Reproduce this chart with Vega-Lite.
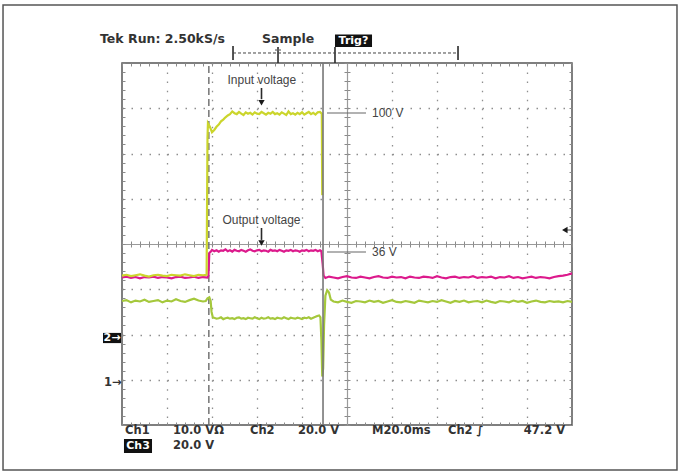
{
"$schema":"https://vega.github.io/schema/vega-lite/v6.json",
"width":450,"height":362,"autosize":"none",
"padding":{"left":122,"top":63,"right":109,"bottom":47},
"background":"white",
"config":{"view":{"stroke":"#555","strokeWidth":1.5},
"axis":{"labels":false,"title":null,"domain":false,"grid":false,"ticks":false,"tickColor":"#8a8a8a","tickWidth":1,"tickSize":3,"domainColor":"#9a9a9a","domainWidth":1.2}},
"resolve":{"axis":{"x":"independent","y":"independent"}},
"datasets":{
"ch1":[{"t":0,"v":3.3},{"t":0.1,"v":3.32},{"t":0.2,"v":3.29},{"t":0.3,"v":3.31},{"t":0.4,"v":3.33},{"t":0.5,"v":3.3},{"t":0.6,"v":3.28},{"t":0.7,"v":3.31},{"t":0.8,"v":3.32},{"t":0.9,"v":3.3},{"t":1.0,"v":3.29},{"t":1.1,"v":3.32},{"t":1.2,"v":3.31},{"t":1.3,"v":3.3},{"t":1.4,"v":3.33},{"t":1.5,"v":3.31},{"t":1.6,"v":3.29},{"t":1.7,"v":3.32},{"t":1.8,"v":3.31},{"t":1.88,"v":3.32},{"t":1.9,"v":6.35},{"t":1.91,"v":6.67},{"t":1.95,"v":6.6},{"t":2.0,"v":6.47},{"t":2.05,"v":6.52},{"t":2.1,"v":6.59},{"t":2.15,"v":6.64},{"t":2.2,"v":6.71},{"t":2.25,"v":6.75},{"t":2.3,"v":6.8},{"t":2.35,"v":6.84},{"t":2.4,"v":6.87},{"t":2.45,"v":6.93},{"t":2.5,"v":6.89},{"t":2.55,"v":6.87},{"t":2.6,"v":6.92},{"t":2.65,"v":6.88},{"t":2.7,"v":6.85},{"t":2.75,"v":6.91},{"t":2.8,"v":6.88},{"t":2.85,"v":6.9},{"t":2.9,"v":6.86},{"t":2.95,"v":6.91},{"t":3.0,"v":6.88},{"t":3.05,"v":6.87},{"t":3.1,"v":6.92},{"t":3.15,"v":6.89},{"t":3.2,"v":6.86},{"t":3.25,"v":6.9},{"t":3.3,"v":6.88},{"t":3.35,"v":6.92},{"t":3.4,"v":6.87},{"t":3.45,"v":6.89},{"t":3.5,"v":6.86},{"t":3.55,"v":6.91},{"t":3.6,"v":6.88},{"t":3.65,"v":6.85},{"t":3.7,"v":6.93},{"t":3.75,"v":6.87},{"t":3.8,"v":6.89},{"t":3.85,"v":6.86},{"t":3.9,"v":6.9},{"t":3.95,"v":6.87},{"t":4.0,"v":6.91},{"t":4.05,"v":6.86},{"t":4.1,"v":6.89},{"t":4.15,"v":6.92},{"t":4.2,"v":6.87},{"t":4.25,"v":6.9},{"t":4.3,"v":6.86},{"t":4.35,"v":6.91},{"t":4.4,"v":6.92},{"t":4.44,"v":6.88},{"t":4.45,"v":5.08}],
"ch2":[{"t":0,"v":3.26},{"t":0.1,"v":3.28},{"t":0.2,"v":3.25},{"t":0.3,"v":3.27},{"t":0.4,"v":3.24},{"t":0.5,"v":3.27},{"t":0.6,"v":3.26},{"t":0.7,"v":3.28},{"t":0.8,"v":3.25},{"t":0.9,"v":3.27},{"t":1.0,"v":3.26},{"t":1.1,"v":3.24},{"t":1.2,"v":3.27},{"t":1.3,"v":3.28},{"t":1.4,"v":3.25},{"t":1.5,"v":3.26},{"t":1.6,"v":3.28},{"t":1.7,"v":3.25},{"t":1.8,"v":3.27},{"t":1.9,"v":3.26},{"t":1.92,"v":3.3},{"t":1.94,"v":3.8},{"t":1.98,"v":3.84},{"t":2.0,"v":3.87},{"t":2.05,"v":3.84},{"t":2.1,"v":3.86},{"t":2.15,"v":3.83},{"t":2.2,"v":3.86},{"t":2.25,"v":3.85},{"t":2.3,"v":3.88},{"t":2.35,"v":3.84},{"t":2.4,"v":3.86},{"t":2.45,"v":3.83},{"t":2.5,"v":3.87},{"t":2.55,"v":3.85},{"t":2.6,"v":3.84},{"t":2.65,"v":3.87},{"t":2.7,"v":3.85},{"t":2.75,"v":3.83},{"t":2.8,"v":3.86},{"t":2.85,"v":3.88},{"t":2.9,"v":3.85},{"t":2.95,"v":3.84},{"t":3.0,"v":3.86},{"t":3.05,"v":3.87},{"t":3.1,"v":3.84},{"t":3.15,"v":3.86},{"t":3.2,"v":3.85},{"t":3.25,"v":3.83},{"t":3.3,"v":3.87},{"t":3.35,"v":3.85},{"t":3.4,"v":3.86},{"t":3.45,"v":3.84},{"t":3.5,"v":3.87},{"t":3.55,"v":3.85},{"t":3.6,"v":3.83},{"t":3.65,"v":3.86},{"t":3.7,"v":3.85},{"t":3.75,"v":3.87},{"t":3.8,"v":3.84},{"t":3.85,"v":3.86},{"t":3.9,"v":3.85},{"t":3.95,"v":3.83},{"t":4.0,"v":3.86},{"t":4.05,"v":3.85},{"t":4.1,"v":3.87},{"t":4.15,"v":3.84},{"t":4.2,"v":3.86},{"t":4.25,"v":3.85},{"t":4.3,"v":3.87},{"t":4.35,"v":3.84},{"t":4.4,"v":3.86},{"t":4.43,"v":3.84},{"t":4.46,"v":3.55},{"t":4.48,"v":3.3},{"t":4.52,"v":3.25},{"t":4.6,"v":3.28},{"t":4.7,"v":3.26},{"t":4.8,"v":3.24},{"t":4.9,"v":3.27},{"t":5.0,"v":3.29},{"t":5.1,"v":3.26},{"t":5.2,"v":3.25},{"t":5.3,"v":3.28},{"t":5.4,"v":3.26},{"t":5.5,"v":3.24},{"t":5.6,"v":3.27},{"t":5.7,"v":3.29},{"t":5.8,"v":3.26},{"t":5.9,"v":3.25},{"t":6.0,"v":3.28},{"t":6.1,"v":3.26},{"t":6.2,"v":3.27},{"t":6.3,"v":3.24},{"t":6.4,"v":3.28},{"t":6.5,"v":3.26},{"t":6.6,"v":3.25},{"t":6.7,"v":3.28},{"t":6.8,"v":3.27},{"t":6.9,"v":3.25},{"t":7.0,"v":3.29},{"t":7.1,"v":3.26},{"t":7.2,"v":3.24},{"t":7.3,"v":3.27},{"t":7.4,"v":3.28},{"t":7.5,"v":3.25},{"t":7.6,"v":3.27},{"t":7.7,"v":3.26},{"t":7.8,"v":3.29},{"t":7.9,"v":3.25},{"t":8.0,"v":3.27},{"t":8.1,"v":3.26},{"t":8.2,"v":3.28},{"t":8.3,"v":3.24},{"t":8.4,"v":3.27},{"t":8.5,"v":3.26},{"t":8.6,"v":3.29},{"t":8.7,"v":3.25},{"t":8.8,"v":3.27},{"t":8.9,"v":3.24},{"t":9.0,"v":3.26},{"t":9.1,"v":3.28},{"t":9.2,"v":3.25},{"t":9.3,"v":3.27},{"t":9.4,"v":3.26},{"t":9.5,"v":3.24},{"t":9.6,"v":3.27},{"t":9.7,"v":3.29},{"t":9.8,"v":3.3},{"t":9.9,"v":3.32},{"t":10.0,"v":3.35}],
"ch3":[{"t":0,"v":2.74},{"t":0.1,"v":2.76},{"t":0.2,"v":2.71},{"t":0.3,"v":2.75},{"t":0.4,"v":2.73},{"t":0.5,"v":2.77},{"t":0.6,"v":2.72},{"t":0.7,"v":2.74},{"t":0.8,"v":2.76},{"t":0.9,"v":2.71},{"t":1.0,"v":2.75},{"t":1.1,"v":2.73},{"t":1.2,"v":2.78},{"t":1.3,"v":2.74},{"t":1.4,"v":2.72},{"t":1.5,"v":2.76},{"t":1.6,"v":2.79},{"t":1.7,"v":2.75},{"t":1.8,"v":2.73},{"t":1.86,"v":2.74},{"t":1.9,"v":2.8},{"t":1.94,"v":2.82},{"t":1.97,"v":2.74},{"t":1.99,"v":2.5},{"t":2.02,"v":2.37},{"t":2.05,"v":2.37},{"t":2.1,"v":2.35},{"t":2.15,"v":2.36},{"t":2.2,"v":2.38},{"t":2.25,"v":2.34},{"t":2.3,"v":2.36},{"t":2.35,"v":2.37},{"t":2.4,"v":2.35},{"t":2.45,"v":2.36},{"t":2.5,"v":2.34},{"t":2.55,"v":2.37},{"t":2.6,"v":2.38},{"t":2.65,"v":2.35},{"t":2.7,"v":2.36},{"t":2.75,"v":2.34},{"t":2.8,"v":2.37},{"t":2.85,"v":2.36},{"t":2.9,"v":2.35},{"t":2.95,"v":2.38},{"t":3.0,"v":2.36},{"t":3.05,"v":2.34},{"t":3.1,"v":2.37},{"t":3.15,"v":2.35},{"t":3.2,"v":2.36},{"t":3.25,"v":2.38},{"t":3.3,"v":2.35},{"t":3.35,"v":2.36},{"t":3.4,"v":2.34},{"t":3.45,"v":2.37},{"t":3.5,"v":2.36},{"t":3.55,"v":2.35},{"t":3.6,"v":2.38},{"t":3.65,"v":2.36},{"t":3.7,"v":2.34},{"t":3.75,"v":2.37},{"t":3.8,"v":2.36},{"t":3.85,"v":2.35},{"t":3.9,"v":2.37},{"t":3.95,"v":2.36},{"t":4.0,"v":2.34},{"t":4.05,"v":2.37},{"t":4.1,"v":2.36},{"t":4.15,"v":2.38},{"t":4.2,"v":2.35},{"t":4.25,"v":2.37},{"t":4.3,"v":2.39},{"t":4.34,"v":2.41},{"t":4.38,"v":2.42},{"t":4.41,"v":2.38},{"t":4.43,"v":1.9},{"t":4.45,"v":1.07},{"t":4.47,"v":1.25},{"t":4.49,"v":2.2},{"t":4.52,"v":2.86},{"t":4.56,"v":2.98},{"t":4.6,"v":2.93},{"t":4.64,"v":2.77},{"t":4.7,"v":2.73},{"t":4.8,"v":2.71},{"t":4.9,"v":2.75},{"t":5.0,"v":2.72},{"t":5.1,"v":2.7},{"t":5.2,"v":2.74},{"t":5.3,"v":2.73},{"t":5.4,"v":2.71},{"t":5.5,"v":2.75},{"t":5.6,"v":2.72},{"t":5.7,"v":2.74},{"t":5.8,"v":2.7},{"t":5.9,"v":2.73},{"t":6.0,"v":2.76},{"t":6.1,"v":2.72},{"t":6.2,"v":2.71},{"t":6.3,"v":2.74},{"t":6.4,"v":2.72},{"t":6.5,"v":2.7},{"t":6.6,"v":2.75},{"t":6.7,"v":2.73},{"t":6.8,"v":2.71},{"t":6.9,"v":2.74},{"t":7.0,"v":2.72},{"t":7.1,"v":2.76},{"t":7.2,"v":2.73},{"t":7.3,"v":2.7},{"t":7.4,"v":2.74},{"t":7.5,"v":2.72},{"t":7.6,"v":2.75},{"t":7.7,"v":2.71},{"t":7.8,"v":2.73},{"t":7.9,"v":2.74},{"t":8.0,"v":2.71},{"t":8.1,"v":2.75},{"t":8.2,"v":2.72},{"t":8.3,"v":2.7},{"t":8.4,"v":2.74},{"t":8.5,"v":2.73},{"t":8.6,"v":2.71},{"t":8.7,"v":2.75},{"t":8.8,"v":2.72},{"t":8.9,"v":2.74},{"t":9.0,"v":2.7},{"t":9.1,"v":2.73},{"t":9.2,"v":2.75},{"t":9.3,"v":2.72},{"t":9.4,"v":2.71},{"t":9.5,"v":2.74},{"t":9.6,"v":2.72},{"t":9.7,"v":2.73},{"t":9.8,"v":2.71},{"t":9.9,"v":2.74},{"t":10.0,"v":2.72}],
"frame":[{"x":-2.644,"x2":12.333,"y":-0.994,"y2":9.282}],
"boxes":[{"x":4.733,"x2":5.556,"y":8.354,"y2":8.63},{"x":0.044,"x2":0.667,"y":-0.62,"y2":-0.31},{"x":-0.422,"x2":-0.022,"y":1.81,"y2":2.035}],
"whitetext":[{"x":5.144,"y":8.49,"label":"Trig?"},{"x":0.356,"y":-0.465,"label":"Ch3"},{"x":-0.222,"y":1.923,"label":"2→"}],
"hdr":[{"x":-0.489,"y":8.53,"label":"Tek Run: 2.50kS/s"},{"x":3.111,"y":8.53,"label":"Sample"}],
"bot":[{"x":0.067,"y":-0.13,"label":"Ch1"},{"x":1.133,"y":-0.13,"label":"10.0 VΩ"},{"x":2.844,"y":-0.13,"label":"Ch2"},{"x":3.911,"y":-0.13,"label":"20.0 V"},{"x":5.556,"y":-0.13,"label":"M20.0ms"},{"x":7.244,"y":-0.13,"label":"Ch2 ∫"},{"x":8.93,"y":-0.13,"label":"47.2 V"},{"x":1.133,"y":-0.465,"label":"20.0 V"},{"x":-0.4,"y":0.928,"label":"1→"}],
"ann":[{"x":2.344,"y":7.624,"label":"Input voltage"},{"x":2.233,"y":4.53,"label":"Output voltage"},{"x":5.556,"y":6.895,"label":"100 V"},{"x":5.556,"y":3.823,"label":"36 V"}],
"vdark":[{"x":2.467,"y":8.066,"y2":8.376},{"x":7.467,"y":8.066,"y2":8.376},{"x":4.733,"y":8.0,"y2":8.354},{"x":3.467,"y":8.0,"y2":8.354},{"x":3.1,"y":7.2,"y2":7.447},{"x":3.1,"y":4.09,"y2":4.354}],
"hdash":[{"x":2.467,"x2":7.467,"y":8.221}],
"hgray":[{"x":4.556,"x2":5.422,"y":6.895},{"x":4.556,"x2":5.422,"y":3.823},{"x":3.4,"x2":3.533,"y":8.287},{"x":9.85,"x2":10.0,"y":4.309}],
"cursor":[{"x":1.93,"y":0,"y2":8}],
"trig":[{"x":4.467,"y":0,"y2":8}],
"tri_down":[{"x":3.1,"y":7.12},{"x":3.1,"y":4.02}],
"tri_left":[{"x":9.84,"y":4.309}]
},
"layer":[
{"data":{"name":"frame"},"mark":{"type":"rect","fill":null,"stroke":"#555","strokeWidth":1.5,"clip":false},
"encoding":{"x":{"field":"x","type":"quantitative","scale":{"domain":[0,10],"nice":false,"zero":false},"axis":null},"x2":{"field":"x2"},"y":{"field":"y","type":"quantitative","scale":{"domain":[0,8],"nice":false,"zero":false},"axis":null},"y2":{"field":"y2"}}},
{"data":{"name":"cursor"},"mark":{"type":"rule","color":"#6a6a6a","strokeWidth":1.4,"strokeDash":[7,4]},
"encoding":{"x":{"field":"x","type":"quantitative","scale":{"domain":[0,10],"nice":false,"zero":false},"axis":{"grid":true,"gridDash":[1.5,7.55],"gridColor":"#8f8f8f","gridWidth":1.3,"values":[1,2,3,4,6,7,8,9]}},"y":{"field":"y","type":"quantitative","scale":{"domain":[0,8],"nice":false,"zero":false},"axis":{"grid":true,"gridDash":[1.5,7.5],"gridColor":"#8f8f8f","gridWidth":1.3,"values":[1,2,3,5,6,7]}},"y2":{"field":"y2"}}},
{"data":{"name":"ch2"},"mark":{"type":"line","color":"#dc1a8c","strokeWidth":2.2},
"encoding":{"x":{"field":"t","type":"quantitative","scale":{"domain":[0,10],"nice":false,"zero":false},"axis":{"orient":"bottom","offset":-362,"ticks":true,"values":[0,0.2,0.4,0.6,0.8,1,1.2,1.4,1.6,1.8,2,2.2,2.4,2.6,2.8,3,3.2,3.4,3.6,3.8,4,4.2,4.4,4.6,4.8,5,5.2,5.4,5.6,5.8,6,6.2,6.4,6.6,6.8,7,7.2,7.4,7.6,7.8,8,8.2,8.4,8.6,8.8,9,9.2,9.4,9.6,9.8,10]}},"y":{"field":"v","type":"quantitative","scale":{"domain":[0,8],"nice":false,"zero":false},"axis":{"orient":"right","offset":-450,"ticks":true,"values":[0,0.2,0.4,0.6,0.8,1,1.2,1.4,1.6,1.8,2,2.2,2.4,2.6,2.8,3,3.2,3.4,3.6,3.8,4,4.2,4.4,4.6,4.8,5,5.2,5.4,5.6,5.8,6,6.2,6.4,6.6,6.8,7,7.2,7.4,7.6,7.8,8]}}}},
{"data":{"name":"ch1"},"mark":{"type":"line","color":"#cbd52c","strokeWidth":2.2},
"encoding":{"x":{"field":"t","type":"quantitative","scale":{"domain":[0,10],"nice":false,"zero":false},"axis":{"orient":"top","offset":-362,"ticks":true,"values":[0,0.2,0.4,0.6,0.8,1,1.2,1.4,1.6,1.8,2,2.2,2.4,2.6,2.8,3,3.2,3.4,3.6,3.8,4,4.2,4.4,4.6,4.8,5,5.2,5.4,5.6,5.8,6,6.2,6.4,6.6,6.8,7,7.2,7.4,7.6,7.8,8,8.2,8.4,8.6,8.8,9,9.2,9.4,9.6,9.8,10]}},"y":{"field":"v","type":"quantitative","scale":{"domain":[0,8],"nice":false,"zero":false},"axis":{"orient":"left","offset":-450,"ticks":true,"values":[0,0.2,0.4,0.6,0.8,1,1.2,1.4,1.6,1.8,2,2.2,2.4,2.6,2.8,3,3.2,3.4,3.6,3.8,4,4.2,4.4,4.6,4.8,5,5.2,5.4,5.6,5.8,6,6.2,6.4,6.6,6.8,7,7.2,7.4,7.6,7.8,8]}}}},
{"data":{"name":"ch3"},"mark":{"type":"line","color":"#a5c83c","strokeWidth":2.2},
"encoding":{"x":{"field":"t","type":"quantitative","scale":{"domain":[0,10],"nice":false,"zero":false},"axis":{"orient":"bottom","offset":-181,"ticks":true,"domain":true,"values":[0,0.2,0.4,0.6,0.8,1,1.2,1.4,1.6,1.8,2,2.2,2.4,2.6,2.8,3,3.2,3.4,3.6,3.8,4,4.2,4.4,4.6,4.8,5,5.2,5.4,5.6,5.8,6,6.2,6.4,6.6,6.8,7,7.2,7.4,7.6,7.8,8,8.2,8.4,8.6,8.8,9,9.2,9.4,9.6,9.8,10]}},"y":{"field":"v","type":"quantitative","scale":{"domain":[0,8],"nice":false,"zero":false},"axis":{"orient":"right","offset":-225,"ticks":true,"domain":true,"values":[0,0.2,0.4,0.6,0.8,1,1.2,1.4,1.6,1.8,2,2.2,2.4,2.6,2.8,3,3.2,3.4,3.6,3.8,4,4.2,4.4,4.6,4.8,5,5.2,5.4,5.6,5.8,6,6.2,6.4,6.6,6.8,7,7.2,7.4,7.6,7.8,8]}}}},
{"data":{"name":"trig"},"mark":{"type":"rule","color":"#777","strokeWidth":1.6},
"encoding":{"x":{"field":"x","type":"quantitative","scale":{"domain":[0,10],"nice":false,"zero":false},"axis":{"orient":"top","offset":-181,"ticks":true,"values":[0,0.2,0.4,0.6,0.8,1,1.2,1.4,1.6,1.8,2,2.2,2.4,2.6,2.8,3,3.2,3.4,3.6,3.8,4,4.2,4.4,4.6,4.8,5,5.2,5.4,5.6,5.8,6,6.2,6.4,6.6,6.8,7,7.2,7.4,7.6,7.8,8,8.2,8.4,8.6,8.8,9,9.2,9.4,9.6,9.8,10]}},"y":{"field":"y","type":"quantitative","scale":{"domain":[0,8],"nice":false,"zero":false},"axis":{"orient":"left","offset":-225,"ticks":true,"values":[0,0.2,0.4,0.6,0.8,1,1.2,1.4,1.6,1.8,2,2.2,2.4,2.6,2.8,3,3.2,3.4,3.6,3.8,4,4.2,4.4,4.6,4.8,5,5.2,5.4,5.6,5.8,6,6.2,6.4,6.6,6.8,7,7.2,7.4,7.6,7.8,8]}},"y2":{"field":"y2"}}},
{"data":{"name":"vdark"},"mark":{"type":"rule","color":"#2a2a2a","strokeWidth":1.6,"clip":false},
"encoding":{"x":{"field":"x","type":"quantitative","scale":{"domain":[0,10],"nice":false,"zero":false},"axis":null},"y":{"field":"y","type":"quantitative","scale":{"domain":[0,8],"nice":false,"zero":false},"axis":null},"y2":{"field":"y2"}}},
{"data":{"name":"hdash"},"mark":{"type":"rule","color":"#444","strokeWidth":1,"strokeDash":[3,2]},
"encoding":{"x":{"field":"x","type":"quantitative","scale":{"domain":[0,10],"nice":false,"zero":false},"axis":null},"x2":{"field":"x2"},"y":{"field":"y","type":"quantitative","scale":{"domain":[0,8],"nice":false,"zero":false},"axis":null}}},
{"data":{"name":"hgray"},"mark":{"type":"rule","color":"#666","strokeWidth":1.2},
"encoding":{"x":{"field":"x","type":"quantitative","scale":{"domain":[0,10],"nice":false,"zero":false},"axis":null},"x2":{"field":"x2"},"y":{"field":"y","type":"quantitative","scale":{"domain":[0,8],"nice":false,"zero":false},"axis":null}}},
{"data":{"name":"tri_down"},"mark":{"type":"point","shape":"triangle-down","filled":true,"color":"#1a1a1a","size":40,"opacity":1},
"encoding":{"x":{"field":"x","type":"quantitative","scale":{"domain":[0,10],"nice":false,"zero":false},"axis":null},"y":{"field":"y","type":"quantitative","scale":{"domain":[0,8],"nice":false,"zero":false},"axis":null}}},
{"data":{"name":"tri_left"},"mark":{"type":"point","shape":"triangle-left","filled":true,"color":"#1a1a1a","size":40,"opacity":1},
"encoding":{"x":{"field":"x","type":"quantitative","scale":{"domain":[0,10],"nice":false,"zero":false},"axis":null},"y":{"field":"y","type":"quantitative","scale":{"domain":[0,8],"nice":false,"zero":false},"axis":null}}},
{"data":{"name":"boxes"},"mark":{"type":"rect","color":"#111","clip":false},
"encoding":{"x":{"field":"x","type":"quantitative","scale":{"domain":[0,10],"nice":false,"zero":false},"axis":null},"x2":{"field":"x2"},"y":{"field":"y","type":"quantitative","scale":{"domain":[0,8],"nice":false,"zero":false},"axis":null},"y2":{"field":"y2"}}},
{"data":{"name":"whitetext"},"mark":{"type":"text","color":"white","font":"DejaVu Sans","fontWeight":"bold","fontSize":11,"align":"center","baseline":"middle"},
"encoding":{"x":{"field":"x","type":"quantitative","scale":{"domain":[0,10],"nice":false,"zero":false},"axis":null},"y":{"field":"y","type":"quantitative","scale":{"domain":[0,8],"nice":false,"zero":false},"axis":null},"text":{"field":"label"}}},
{"data":{"name":"hdr"},"mark":{"type":"text","color":"#333","font":"DejaVu Sans","fontWeight":"bold","fontSize":12.5,"align":"left","baseline":"middle"},
"encoding":{"x":{"field":"x","type":"quantitative","scale":{"domain":[0,10],"nice":false,"zero":false},"axis":null},"y":{"field":"y","type":"quantitative","scale":{"domain":[0,8],"nice":false,"zero":false},"axis":null},"text":{"field":"label"}}},
{"data":{"name":"bot"},"mark":{"type":"text","color":"#333","font":"DejaVu Sans","fontWeight":"bold","fontSize":11.5,"align":"left","baseline":"middle"},
"encoding":{"x":{"field":"x","type":"quantitative","scale":{"domain":[0,10],"nice":false,"zero":false},"axis":null},"y":{"field":"y","type":"quantitative","scale":{"domain":[0,8],"nice":false,"zero":false},"axis":null},"text":{"field":"label"}}},
{"data":{"name":"ann"},"mark":{"type":"text","color":"#444","font":"Liberation Sans","fontSize":12,"align":"left","baseline":"middle"},
"encoding":{"x":{"field":"x","type":"quantitative","scale":{"domain":[0,10],"nice":false,"zero":false},"axis":null},"y":{"field":"y","type":"quantitative","scale":{"domain":[0,8],"nice":false,"zero":false},"axis":null},"text":{"field":"label"}}}
]
}
